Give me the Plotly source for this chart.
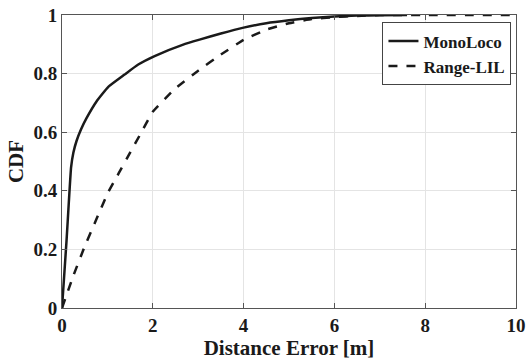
import plotly.graph_objects as go

mono_x = [0, 0.1, 0.15, 0.2, 0.25, 0.32, 0.42, 0.54, 0.76, 1.02, 1.38, 1.68, 2.04, 2.67, 3.03, 3.5, 4.0, 4.5, 5.0, 5.5, 6.0, 6.5, 7.0, 7.6]
mono_y = [0, 0.23, 0.36, 0.48, 0.53, 0.57, 0.61, 0.648, 0.705, 0.755, 0.797, 0.831, 0.86, 0.899, 0.916, 0.937, 0.957, 0.972, 0.982, 0.99, 0.995, 0.998, 0.999, 1.0]

range_x = [0, 0.25, 0.5, 0.75, 1.0, 1.25, 1.5, 1.75, 2.0, 2.5, 3.0, 3.5, 4.0, 4.5, 5.0, 5.5, 6.0, 6.5, 7.0, 8.0, 10.0]
range_y = [0, 0.11, 0.21, 0.30, 0.39, 0.46, 0.53, 0.60, 0.67, 0.75, 0.81, 0.865, 0.915, 0.95, 0.972, 0.986, 0.993, 0.997, 1.0, 1.0, 1.0]

x_ticks = [0, 2, 4, 6, 8, 10]
y_ticks = [0, 0.2, 0.4, 0.6, 0.8, 1]

FONT = "Liberation Serif, Times New Roman, serif"
INK = "#1a1a1a"

fig = go.Figure()
fig.add_trace(go.Scatter(x=mono_x, y=mono_y, mode="lines", name="MonoLoco",
                         line=dict(color=INK, width=2.5, shape="spline", smoothing=0.4)))
fig.add_trace(go.Scatter(x=range_x, y=range_y, mode="lines", name="Range-LIL",
                         line=dict(color=INK, width=2.5, dash="dash", shape="spline", smoothing=0.3)))

def axis_common():
    return dict(
        showgrid=True, gridcolor="#e4e4e4", gridwidth=1,
        showline=True, linecolor="#555555", linewidth=1, mirror="ticks",
        ticks="inside", ticklen=5, tickcolor="#555555",
        zeroline=False, automargin=False,
        tickfont=dict(family=FONT, size=19, color=INK, weight="bold"),
    )

fig.update_xaxes(range=[0, 10], tickvals=x_ticks, ticktext=[str(v) for v in x_ticks],
                 ticklabelstandoff=0,
                 title=dict(text="Distance Error [m]", font=dict(family=FONT, size=21, color=INK, weight="bold"), standoff=2),
                 **axis_common())
fig.update_yaxes(range=[0, 1], tickvals=y_ticks, ticktext=[f"{v:g}" for v in y_ticks],
                 title=dict(text="CDF", font=dict(family=FONT, size=21, color=INK, weight="bold"), standoff=4),
                 **axis_common())

fig.update_layout(
    width=527, height=361,
    margin=dict(l=62, r=11, t=15, b=53, autoexpand=False),
    paper_bgcolor="white", plot_bgcolor="white",
    showlegend=True,
    legend=dict(x=0.99, y=0.975, xanchor="right", yanchor="top",
                bgcolor="white", bordercolor="#444444", borderwidth=1,
                font=dict(family=FONT, size=17, color=INK, weight="bold"),
                tracegroupgap=0, itemwidth=30),
)

fig.write_html("out.html")
